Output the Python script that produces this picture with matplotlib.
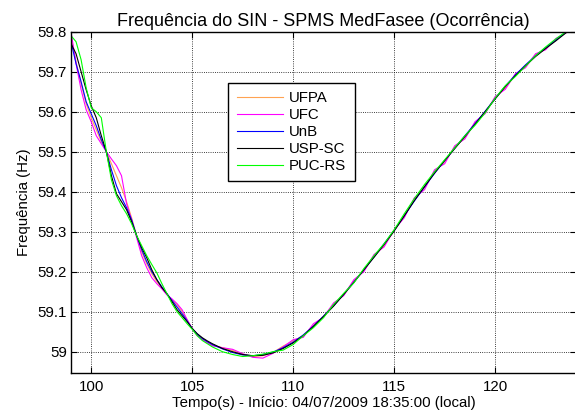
import numpy as np
import matplotlib
matplotlib.use("Agg")
import matplotlib.pyplot as plt

# time axis (s) and frequency (Hz)
tempo = [99.0, 99.25, 99.5, 99.75, 100.0, 100.25, 100.5, 100.75, 101.0, 101.25,
         101.5, 101.75, 102.0, 102.25, 102.5, 102.75, 103.0, 103.25, 103.5, 103.75,
         104.0, 104.25, 104.5, 104.75, 105.0, 105.25, 105.5, 105.75, 106.0,
         106.5, 107.0, 107.5, 108.0, 108.5, 109.0, 109.5, 110.0, 110.5, 111.0,
         111.5, 112.0, 112.5, 113.0, 113.5, 114.0, 114.5, 115.0, 115.5, 116.0,
         116.5, 117.0, 117.5, 118.0, 118.5, 119.0, 119.5, 120.0, 120.5, 121.0,
         121.5, 122.0, 122.5, 123.0, 123.5, 124.0]

ufpa = [59.79, 59.725, 59.67, 59.62, 59.585, 59.555, 59.525, 59.50, 59.47, 59.44,
        59.41, 59.375, 59.335, 59.29, 59.25, 59.22, 59.195, 59.175, 59.16, 59.143,
        59.13, 59.118, 59.10, 59.08, 59.058, 59.042, 59.032, 59.024, 59.016,
        59.01, 59.003, 58.994, 58.988, 58.99, 58.998, 59.014, 59.027, 59.04, 59.066,
        59.088, 59.118, 59.143, 59.177, 59.203, 59.24, 59.266, 59.303, 59.338, 59.382,
        59.41, 59.45, 59.475, 59.512, 59.536, 59.572, 59.598, 59.635, 59.66, 59.692,
        59.713, 59.742, 59.758, 59.78, 59.798, 59.818]

ufc = [59.80, 59.72, 59.655, 59.605, 59.575, 59.54, 59.52, 59.50, 59.482, 59.465,
       59.44, 59.37, 59.33, 59.285, 59.24, 59.21, 59.185, 59.17, 59.157, 59.142,
       59.132, 59.12, 59.105, 59.08, 59.058, 59.04, 59.03, 59.022, 59.015,
       59.01, 59.006, 58.995, 58.986, 58.984, 58.996, 59.012, 59.03, 59.036, 59.07,
       59.086, 59.122, 59.14, 59.18, 59.20, 59.243, 59.262, 59.305, 59.335, 59.385,
       59.405, 59.455, 59.47, 59.515, 59.532, 59.575, 59.595, 59.638, 59.656, 59.695,
       59.71, 59.745, 59.755, 59.783, 59.797, 59.82]

unb = [59.775, 59.72, 59.675, 59.625, 59.595, 59.565, 59.53, 59.50, 59.455, 59.415,
       59.385, 59.36, 59.33, 59.29, 59.255, 59.225, 59.20, 59.18, 59.162, 59.145,
       59.128, 59.112, 59.095, 59.077, 59.058, 59.044, 59.033, 59.025, 59.018,
       59.007, 58.998, 58.992, 58.99, 58.993, 58.999, 59.01, 59.024, 59.042, 59.064,
       59.089, 59.115, 59.144, 59.174, 59.205, 59.237, 59.27, 59.303, 59.34, 59.377,
       59.412, 59.446, 59.478, 59.509, 59.54, 59.57, 59.601, 59.633, 59.664, 59.692,
       59.717, 59.74, 59.76, 59.779, 59.799, 59.818]

uspsc = [59.77, 59.745, 59.70, 59.655, 59.615, 59.585, 59.54, 59.50, 59.44, 59.395,
         59.375, 59.355, 59.325, 59.29, 59.26, 59.235, 59.205, 59.18, 59.16, 59.145,
         59.125, 59.105, 59.09, 59.075, 59.058, 59.045, 59.035, 59.027, 59.02,
         59.008, 59.0, 58.993, 58.99, 58.991, 58.997, 59.008, 59.022, 59.04, 59.063,
         59.088, 59.114, 59.143, 59.173, 59.205, 59.236, 59.268, 59.302, 59.34, 59.378,
         59.413, 59.447, 59.478, 59.508, 59.538, 59.568, 59.60, 59.632, 59.663, 59.69,
         59.715, 59.738, 59.758, 59.777, 59.797, 59.815]

pucrs = [59.79, 59.775, 59.73, 59.66, 59.61, 59.60, 59.585, 59.50, 59.43, 59.39,
         59.365, 59.345, 59.32, 59.29, 59.265, 59.24, 59.218, 59.197, 59.17, 59.145,
         59.12, 59.10, 59.085, 59.07, 59.056, 59.04, 59.028, 59.02, 59.012,
         59.0, 58.993, 58.988, 58.99, 58.994, 59.0, 59.004, 59.018, 59.04, 59.06,
         59.085, 59.118, 59.146, 59.172, 59.208, 59.24, 59.27, 59.305, 59.345, 59.383,
         59.418, 59.45, 59.48, 59.51, 59.54, 59.566, 59.597, 59.634, 59.665, 59.688,
         59.714, 59.74, 59.762, 59.782, 59.80, 59.82]

nomes = ['UFPA', 'UFC', 'UnB', 'USP-SC', 'PUC-RS']
cores = ['#ffa352', '#ff00ff', '#0000ff', '#000000', '#00ff00']

plt.rcParams['font.family'] = ['Liberation Sans', 'DejaVu Sans']
plt.rcParams['font.size'] = 10.8

fig = plt.figure(figsize=(5.75, 4.11), dpi=100)
ax = fig.add_axes([71 / 575, 38 / 411, 505 / 575, 341.3 / 411])

for serie, nome, cor in zip([ufpa, ufc, unb, uspsc, pucrs], nomes, cores):
    ax.plot(tempo, serie, color=cor, lw=0.8, label=nome)

ax.set_xlim(99, 124)
ax.set_ylim(58.9468, 59.8)
ax.set_xticks([100, 105, 110, 115, 120])
ax.set_yticks([59, 59.1, 59.2, 59.3, 59.4, 59.5, 59.6, 59.7, 59.8])
ax.set_yticklabels(['59', '59.1', '59.2', '59.3', '59.4', '59.5', '59.6', '59.7', '59.8'])
ax.tick_params(direction='in', top=True, right=True, length=4, width=0.8)
ax.tick_params(axis='x', pad=5)
ax.tick_params(axis='y', pad=3)
ax.grid(True, color='k', linestyle=':', linewidth=0.6)
for s in ax.spines.values():
    s.set_linewidth(1.0)

ax.set_title('Frequência do SIN - SPMS MedFasee (Ocorrência)', pad=3.8)
ax.set_xlabel('Tempo(s) - Início: 04/07/2009 18:35:00 (local)', labelpad=1.5)
ax.set_ylabel('Frequência (Hz)', labelpad=4.5)

leg = ax.legend(loc='upper left', bbox_to_anchor=(0.3115, 0.8497), borderaxespad=0,
                handlelength=3.1, handletextpad=0.4, labelspacing=0.2,
                borderpad=0.55, fancybox=False, edgecolor='k', framealpha=1)
leg.get_frame().set_linewidth(1.0)

fig.savefig('out.png', dpi=100)
